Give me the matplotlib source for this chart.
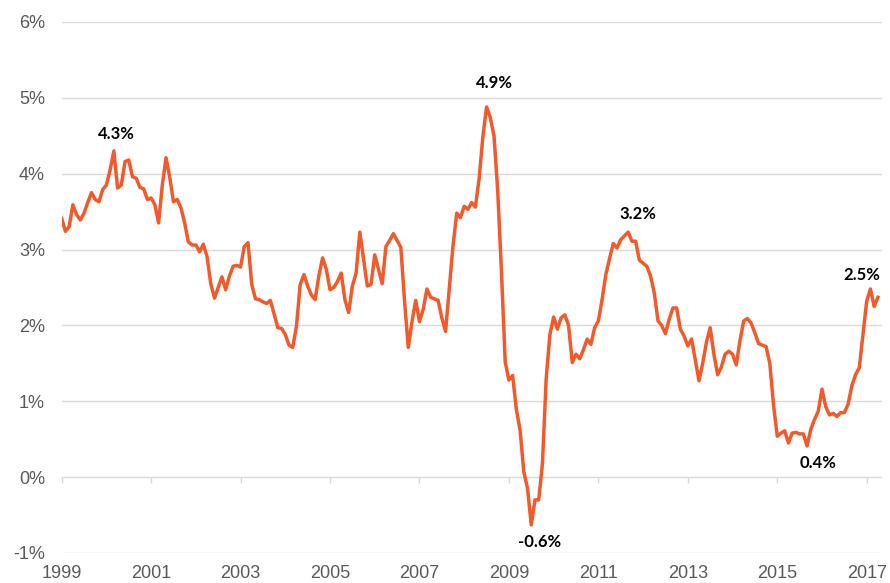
import matplotlib
matplotlib.use("Agg")
import matplotlib.pyplot as plt
from matplotlib.ticker import FuncFormatter

# monthly values, Jan 1999 .. Apr 2017 (%)
start_year = 1999
inflation = [
    3.41, 3.24, 3.30, 3.59, 3.46, 3.39, 3.48, 3.62, 3.75, 3.66, 3.63, 3.79,  # 1999
    3.85, 4.05, 4.30, 3.81, 3.85, 4.16, 4.18, 3.96, 3.94, 3.82, 3.80, 3.66,  # 2000
    3.68, 3.59, 3.35, 3.85, 4.21, 3.95, 3.63, 3.66, 3.55, 3.35, 3.10, 3.06,  # 2001
    3.06, 2.97, 3.07, 2.91, 2.55, 2.36, 2.50, 2.64, 2.47, 2.65, 2.78, 2.79,  # 2002
    2.77, 3.04, 3.09, 2.54, 2.35, 2.34, 2.31, 2.29, 2.33, 2.15, 1.97, 1.96,  # 2003
    1.88, 1.74, 1.71, 1.99, 2.54, 2.67, 2.52, 2.40, 2.34, 2.65, 2.89, 2.74,  # 2004
    2.47, 2.50, 2.58, 2.69, 2.34, 2.17, 2.52, 2.69, 3.23, 2.87, 2.52, 2.54,  # 2005
    2.93, 2.74, 2.55, 3.04, 3.12, 3.21, 3.12, 3.03, 2.32, 1.71, 2.05, 2.33,  # 2006
    2.05, 2.21, 2.48, 2.37, 2.35, 2.33, 2.10, 1.92, 2.49, 3.05, 3.48, 3.42,  # 2007
    3.57, 3.53, 3.62, 3.56, 3.93, 4.48, 4.88, 4.74, 4.50, 3.77, 2.71, 1.52,  # 2008
    1.28, 1.34, 0.89, 0.62, 0.07, -0.15, -0.63, -0.30, -0.30, 0.18, 1.30, 1.88,  # 2009
    2.11, 1.95, 2.10, 2.14, 2.00, 1.51, 1.62, 1.56, 1.68, 1.82, 1.75, 1.97,  # 2010
    2.06, 2.34, 2.67, 2.88, 3.08, 3.02, 3.13, 3.18, 3.23, 3.11, 3.11, 2.86,  # 2011
    2.82, 2.78, 2.65, 2.43, 2.06, 2.00, 1.89, 2.08, 2.23, 2.23, 1.95, 1.86,  # 2012
    1.73, 1.82, 1.55, 1.27, 1.50, 1.78, 1.97, 1.62, 1.35, 1.45, 1.62, 1.66,  # 2013
    1.62, 1.48, 1.80, 2.06, 2.09, 2.03, 1.90, 1.76, 1.74, 1.72, 1.50, 0.95,  # 2014
    0.54, 0.58, 0.61, 0.45, 0.58, 0.59, 0.57, 0.57, 0.41, 0.63, 0.76, 0.87,  # 2015
    1.16, 0.93, 0.82, 0.84, 0.80, 0.85, 0.85, 0.96, 1.20, 1.35, 1.44, 1.88,  # 2016
    2.32, 2.48, 2.25, 2.37,                                                  # 2017
]
dates = [start_year + i / 12 for i in range(len(inflation))]

year_ticks = list(range(1999, 2018, 2))
y_ticks = [-1, 0, 1, 2, 3, 4, 5, 6]

# (month index, label, offset in points)
callouts = [
    (14, "4.3%", (2, 12)),
    (114, "4.9%", (6, 17)),
    (126, "-0.6%", (6, -12)),
    (152, "3.2%", (7, 13)),
    (200, "0.4%", (8, -12)),
    (217, "2.5%", (-6, 10)),
]

line_color = "#F15A2B"
grid_color = "#D9D9D9"
text_grey = "#595959"

fig = plt.figure(figsize=(8.9, 5.83), dpi=100)
ax = fig.add_axes([0.0693, 0.0515, 0.9217, 0.9108])

ax.plot(dates, inflation, color=line_color, linewidth=2.5, solid_joinstyle="round", zorder=3)

ax.set_xlim(1999, 1999 + 220.1 / 12)
ax.set_ylim(-1, 6)
ax.set_yticks(y_ticks)
ax.yaxis.set_major_formatter(FuncFormatter(lambda v, p: f"{v:.0f}%"))
ax.set_xticks(year_ticks)
ax.set_xticklabels([str(y) for y in year_ticks])

for v in y_ticks:
    ax.axhline(v, color=grid_color, linewidth=1.0, zorder=1)

for s in ["top", "right", "left"]:
    ax.spines[s].set_visible(False)
ax.spines["bottom"].set_position(("data", 0))
ax.spines["bottom"].set_visible(False)

ax.tick_params(axis="y", length=0, pad=12, labelsize=13, labelcolor=text_grey)
ax.tick_params(axis="x", length=4.3, width=1.0, color=grid_color, direction="out",
               pad=59, labelsize=13, labelcolor=text_grey)
for lab in ax.get_xticklabels() + ax.get_yticklabels():
    lab.set_fontfamily("Liberation Sans")

for idx, label, off in callouts:
    ax.annotate(label, xy=(dates[idx], inflation[idx]), xytext=off,
                textcoords="offset points", ha="center", va="center",
                fontsize=12, fontweight="bold", family="Lato", color="black")

fig.savefig("out.png", dpi=100)
